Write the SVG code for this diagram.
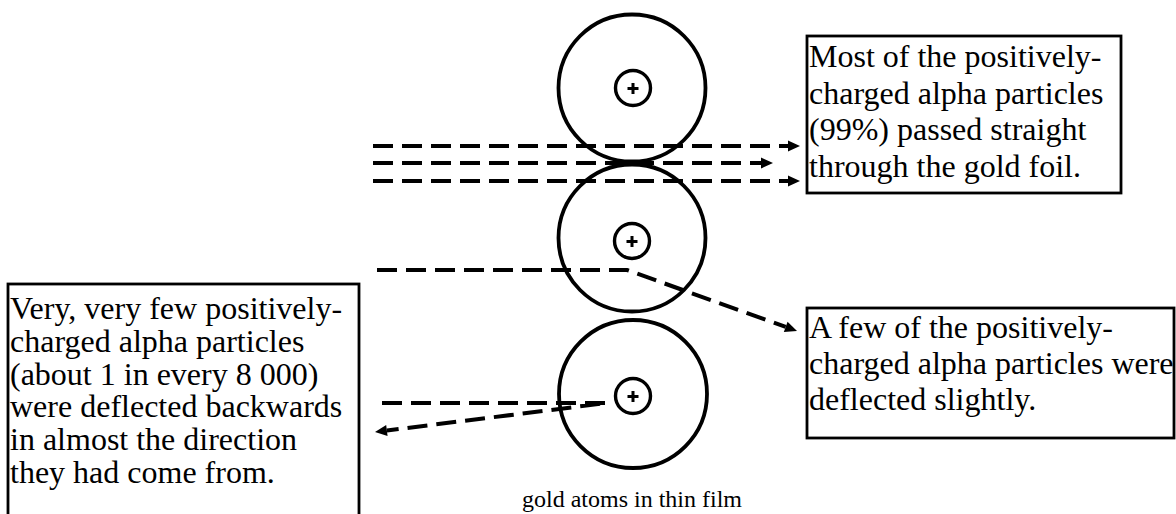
<svg xmlns="http://www.w3.org/2000/svg" width="1176" height="514" viewBox="0 0 1176 514">
<style>
.atom{fill:none;stroke:#000;stroke-width:3.8}
.nuc{fill:#fff;stroke:#000;stroke-width:3.4}
.plus{stroke:#000;stroke-width:3;fill:none}
.ray{fill:none;stroke:#000;stroke-width:4;stroke-dasharray:20 9}
.box{fill:#fff;stroke:#000;stroke-width:2.8}
.t{font-family:"Liberation Serif","Times New Roman",serif;font-size:32px;fill:#000}
.cap{font-family:"Liberation Serif","Times New Roman",serif;font-size:24px;fill:#000}
</style>
<defs>
<marker id="ah" markerUnits="userSpaceOnUse" markerWidth="14" markerHeight="12" refX="0" refY="5.5" orient="auto" overflow="visible">
<path d="M0,0 L12,5.5 L0,11 z" fill="#000"/>
</marker>
</defs>
<g id="atom1">
<circle class="atom" cx="632" cy="88" r="73.5"/>
<circle class="nuc" cx="633" cy="88" r="17.5"/>
<path class="plus" d="M627.5,88.5 H638.5 M633,83 V94"/>
</g>
<g id="atom2">
<circle class="atom" cx="632" cy="238" r="73.5"/>
<circle class="nuc" cx="632" cy="241" r="17.5"/>
<path class="plus" d="M626.5,241.5 H637.5 M632,236 V247"/>
</g>
<g id="atom3">
<circle class="atom" cx="633" cy="394" r="74"/>
<circle class="nuc" cx="633" cy="396" r="17.5"/>
<path class="plus" d="M627.5,396.5 H638.5 M633,391 V402"/>
</g>
<g id="connectors">
<path class="ray" d="M373,146 H788" marker-end="url(#ah)"/>
<path class="ray" d="M373,163 H761" marker-end="url(#ah)"/>
<path class="ray" d="M373,181 H788" marker-end="url(#ah)"/>
<path class="ray" d="M377,270 H627 L785.7,326.9" marker-end="url(#ah)"/>
<path class="ray" d="M382,403 H607 L386.9,430.5" marker-end="url(#ah)"/>
</g>
<g id="box-straight">
<rect class="box" x="807" y="36" width="314" height="157"/>
<text class="t" x="809" y="67">Most of the positively-</text>
<text class="t" x="809" y="103.5">charged alpha particles</text>
<text class="t" x="809" y="140">(99%) passed straight</text>
<text class="t" x="809" y="176.5">through the gold foil.</text>
</g>
<g id="box-slight">
<rect class="box" x="807" y="308" width="367" height="130"/>
<text class="t" x="809" y="338">A few of the positively-</text>
<text class="t" x="809" y="374">charged alpha particles were</text>
<text class="t" x="809" y="410">deflected slightly.</text>
</g>
<g id="box-back">
<rect class="box" x="8" y="284" width="351" height="240"/>
<text class="t" x="10" y="319">Very, very few positively-</text>
<text class="t" x="10" y="351.8">charged alpha particles</text>
<text class="t" x="10" y="384.6">(about 1 in every 8 000)</text>
<text class="t" x="10" y="417.4">were deflected backwards</text>
<text class="t" x="10" y="450.2">in almost the direction</text>
<text class="t" x="10" y="483">they had come from.</text>
</g>
<g id="caption">
<text class="cap" x="522" y="507">gold atoms in thin film</text>
</g>
</svg>
